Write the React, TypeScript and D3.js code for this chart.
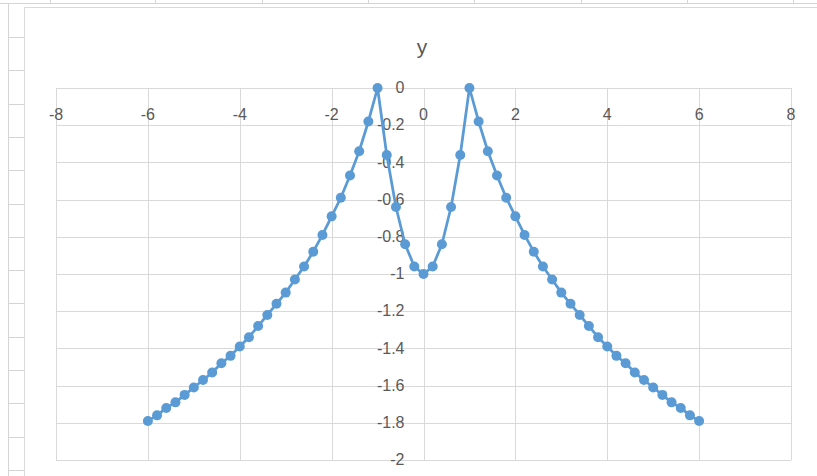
import React from 'react';
import * as d3 from 'd3';

// series (x step 0.2)
const xValues = [
  -6, -5.8, -5.6, -5.4, -5.2, -5, -4.8, -4.6, -4.4, -4.2,
  -4, -3.8, -3.6, -3.4, -3.2, -3, -2.8, -2.6, -2.4, -2.2,
  -2, -1.8, -1.6, -1.4, -1.2, -1, -0.8, -0.6, -0.4, -0.2,
  0,
  0.2, 0.4, 0.6, 0.8, 1, 1.2, 1.4, 1.6, 1.8, 2,
  2.2, 2.4, 2.6, 2.8, 3, 3.2, 3.4, 3.6, 3.8, 4,
  4.2, 4.4, 4.6, 4.8, 5, 5.2, 5.4, 5.6, 5.8, 6,
];
const yValues = [
  -1.79, -1.76, -1.72, -1.69, -1.65, -1.61, -1.57, -1.53, -1.48, -1.44,
  -1.39, -1.34, -1.28, -1.22, -1.16, -1.1, -1.03, -0.96, -0.88, -0.79,
  -0.69, -0.59, -0.47, -0.34, -0.18, 0, -0.36, -0.64, -0.84, -0.96,
  -1,
  -0.96, -0.84, -0.64, -0.36, 0, -0.18, -0.34, -0.47, -0.59, -0.69,
  -0.79, -0.88, -0.96, -1.03, -1.1, -1.16, -1.22, -1.28, -1.34, -1.39,
  -1.44, -1.48, -1.53, -1.57, -1.61, -1.65, -1.69, -1.72, -1.76, -1.79,
];

const xTicks = [-8, -6, -4, -2, 0, 2, 4, 6, 8];
const yTicks = [0, -0.2, -0.4, -0.6, -0.8, -1, -1.2, -1.4, -1.6, -1.8, -2];
const chartTitle = 'y';

const W = 817;
const H = 476;
const grid = '#d9d9d9';
const sheet = '#d4d4d4';
const textColor = '#595959';
const blue = '#5b9bd5';
const font = '"Liberation Sans", Arial, sans-serif';

const App = () => {
  const x = d3.scaleLinear().domain([-8, 8]).range([56, 791]);
  const y = d3.scaleLinear().domain([0, -2]).range([88, 460]);

  const points = xValues.map((v, i) => [v, yValues[i]] as [number, number]);
  const line = d3
    .line<[number, number]>()
    .x(d => x(d[0]))
    .y(d => y(d[1]));

  // spreadsheet cells behind the chart
  const colMarks = [50, 155, 262, 368, 474, 581, 687, 793];
  const rowMarks = d3.range(37, H, 33.3);

  return (
    <div style={{ position: 'absolute', left: 0, top: 0 }}>
      <svg width={W} height={H} style={{ display: 'block', background: '#fff' }}>
        {/* worksheet frame */}
        <line x1={0} x2={W} y1={3.5} y2={3.5} stroke={sheet} />
        {colMarks.map(c => (
          <line key={c} x1={c + 0.5} x2={c + 0.5} y1={0} y2={4} stroke={sheet} />
        ))}
        <line x1={8.5} x2={8.5} y1={4} y2={H} stroke={sheet} />
        {rowMarks.map(r => (
          <line key={r} x1={8} x2={24} y1={Math.round(r) + 0.5} y2={Math.round(r) + 0.5} stroke={sheet} />
        ))}
        {/* chart area border */}
        <line x1={24.5} x2={W} y1={7.5} y2={7.5} stroke={grid} />
        <line x1={24.5} x2={24.5} y1={7.5} y2={H} stroke={grid} />

        {/* gridlines */}
        <g stroke={grid} strokeWidth={1}>
          {xTicks.map(t => (
            <line key={'gx' + t} x1={Math.round(x(t)) + 0.5} x2={Math.round(x(t)) + 0.5} y1={y(0)} y2={y(-2)} />
          ))}
          {yTicks.map(t => (
            <line key={'gy' + t} x1={x(-8)} x2={x(8)} y1={Math.round(y(t)) + 0.5} y2={Math.round(y(t)) + 0.5} />
          ))}
        </g>

        {/* x tick labels, under the axis at y = 0 */}
        <g fontFamily={font} fontSize={16} fill={textColor} textAnchor="middle">
          {xTicks.map(t => (
            <text key={'tx' + t} x={x(t)} y={y(0) + 28} dominantBaseline="middle">
              {t}
            </text>
          ))}
        </g>

        {/* y tick labels, left of the axis at x = 0 */}
        <g fontFamily={font} fontSize={16} fill={textColor} textAnchor="end">
          {yTicks.map(t => (
            <text key={'ty' + t} x={x(0) - 19} y={y(t) + 1} dominantBaseline="middle">
              {t}
            </text>
          ))}
        </g>

        {/* series */}
        <path d={line(points) ?? ''} fill="none" stroke={blue} strokeWidth={2.75} strokeLinejoin="round" />
        <g fill={blue}>
          {points.map((d, i) => (
            <circle key={i} cx={x(d[0])} cy={y(d[1])} r={5} />
          ))}
        </g>

        <text
          x={422}
          y={48}
          textAnchor="middle"
          dominantBaseline="middle"
          fontFamily={font}
          fontSize={21}
          fill={textColor}
        >
          {chartTitle}
        </text>
      </svg>
    </div>
  );
};

export default App;
